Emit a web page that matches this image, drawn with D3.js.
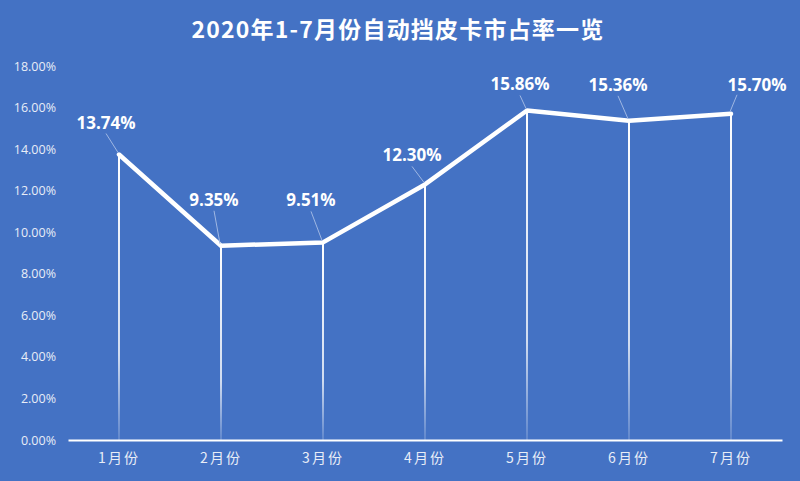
<!DOCTYPE html>
<html><head><meta charset="utf-8">
<script src="https://cdn.jsdelivr.net/npm/d3@7"></script>
<style>
html,body{margin:0;padding:0;background:#4472C4;}
svg{display:block;}
</style></head>
<body>
<script>
const title = "2020年1-7月份自动挡皮卡市占率一览";
const categories = ["1月份","2月份","3月份","4月份","5月份","6月份","7月份"];
const shares = [13.74, 9.35, 9.51, 12.30, 15.86, 15.36, 15.70];
const yTicks = [0,2,4,6,8,10,12,14,16,18];
// label placement offsets (layout only)
const labelDx = [-13,-7,-12,-13,-7,-11,26];
const labelDy = [-26,-40,-36,-23,-20,-30,-23];

const W=800,H=481;
const svg=d3.select("body").append("svg").attr("width",W).attr("height",H);
svg.append("rect").attr("width",W).attr("height",H).attr("fill","#4472C4");

const x=d3.scaleBand().domain(categories).range([68,782]);
const y=d3.scaleLinear().domain([0,18]).range([440,66]);
const cx=d=>x(d)+x.bandwidth()/2;

svg.append("text").attr("x",398).attr("y",38).attr("text-anchor","middle")
 .attr("fill","#fff").attr("font-family","'Noto Sans CJK SC','Noto Sans',sans-serif")
 .attr("font-size",23).attr("font-weight","bold").attr("letter-spacing",1.2).text(title);

const defs=svg.append("defs");
const g=defs.append("linearGradient").attr("id","drop").attr("x1",0).attr("y1",0).attr("x2",0).attr("y2",1);
g.append("stop").attr("offset","0%").attr("stop-color","#fff").attr("stop-opacity",1);
g.append("stop").attr("offset","70%").attr("stop-color","#fff").attr("stop-opacity",0.75);
g.append("stop").attr("offset","100%").attr("stop-color","#fff").attr("stop-opacity",0.15);

// y axis labels
const yAxis=d3.axisLeft(y).tickValues(yTicks).tickSize(0).tickPadding(0).tickFormat(d=>d3.format(".2f")(d)+"%");
const ya=svg.append("g").attr("transform","translate(56,0)").call(yAxis);
ya.select(".domain").remove();
ya.selectAll("text").attr("fill","#E8EDF7").attr("font-size",12.5)
 .attr("font-family","'Open Sans','Noto Sans',sans-serif");

// drop lines
svg.append("g").selectAll("rect").data(categories).join("rect")
 .attr("x",d=>cx(d)-1).attr("width",2)
 .attr("y",(d,i)=>y(shares[i])).attr("height",(d,i)=>440-y(shares[i]))
 .attr("fill","url(#drop)");

// x axis
const xAxis=d3.axisBottom(x).tickSize(0).tickPadding(13);
const xa=svg.append("g").attr("transform","translate(0,440)").call(xAxis);
xa.select(".domain").attr("stroke","#fff").attr("stroke-width",2);
xa.selectAll("text").attr("fill","#E8EDF7").attr("font-size",14).attr("letter-spacing",2)
 .attr("font-family","'Noto Sans CJK SC',sans-serif");

// line
const line=d3.line().x((d,i)=>cx(categories[i])).y(d=>y(d));
svg.append("path").datum(shares).attr("d",line).attr("fill","none")
 .attr("stroke","#fff").attr("stroke-width",4.5).attr("stroke-linejoin","round").attr("stroke-linecap","round");

// leader lines and labels
const lab=svg.append("g");
shares.forEach((v,i)=>{
  const px=cx(categories[i]), py=y(v);
  const lx=px+labelDx[i], ly=py+labelDy[i];
  let sx=lx, sy=ly+5;
  if(i===6){sx=lx-20; sy=ly+4;}
  lab.append("line").attr("x1",sx).attr("y1",sy).attr("x2",px-1).attr("y2",py-2)
   .attr("stroke","#9FB7E3").attr("stroke-width",1);
  lab.append("text").attr("x",lx).attr("y",ly).attr("text-anchor","middle")
   .attr("fill","#fff").attr("font-size",17).attr("font-weight","bold")
   .attr("font-family","'Open Sans','Noto Sans',sans-serif")
   .text(d3.format(".2f")(v)+"%");
});
</script>
</body></html>
